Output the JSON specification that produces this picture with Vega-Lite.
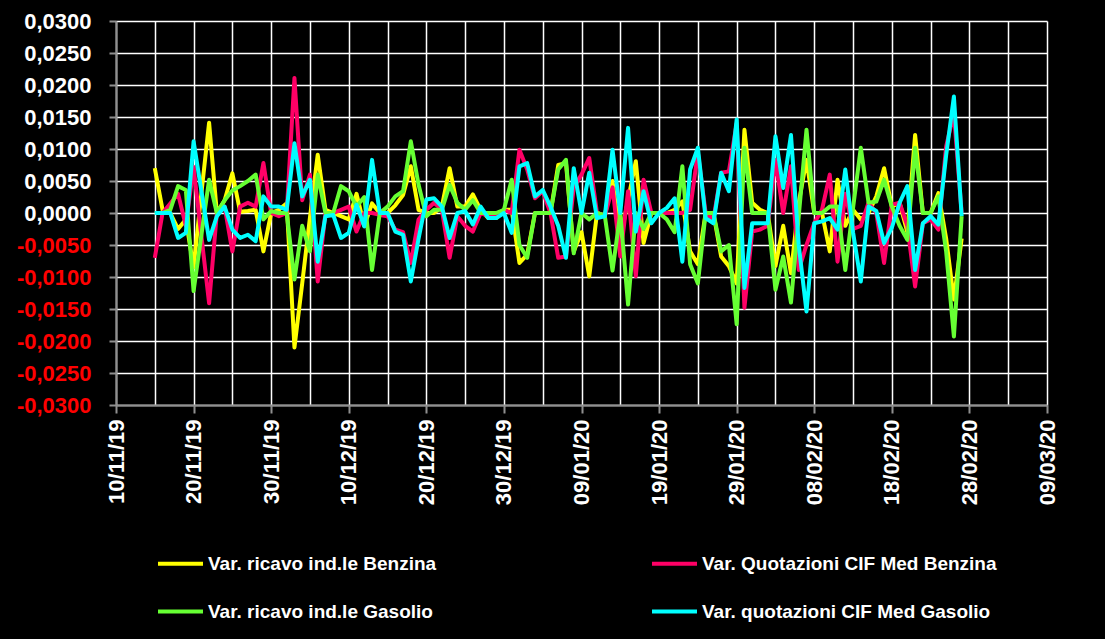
{
  "$schema": "https://vega.github.io/schema/vega-lite/v6.json",
  "width": 931,
  "height": 384,
  "autosize": "none",
  "padding": {"left": 116, "top": 21, "right": 58, "bottom": 234},
  "background": "#000000",
  "config": {"view": {"stroke": null}, "font": "Liberation Sans"},
  "data": {"values": [
    {"d":"2019-11-15","Y":0.0070,"R":-0.0070,"G":0.0,"C":0.0},
    {"d":"2019-11-16","Y":0.0005,"R":0.0,"G":0.0,"C":0.0},
    {"d":"2019-11-17","Y":0.0,"R":0.0015,"G":0.0005,"C":0.0},
    {"d":"2019-11-18","Y":-0.0025,"R":0.003,"G":0.0042,"C":-0.0039},
    {"d":"2019-11-19","Y":-0.001,"R":-0.002,"G":0.0036,"C":-0.0031},
    {"d":"2019-11-20","Y":-0.0085,"R":0.0072,"G":-0.0122,"C":0.0112},
    {"d":"2019-11-21","Y":0.003,"R":-0.0035,"G":-0.0035,"C":0.0035},
    {"d":"2019-11-22","Y":0.0141,"R":-0.0141,"G":0.0052,"C":-0.0042},
    {"d":"2019-11-23","Y":0.0,"R":0.0,"G":0.0,"C":-0.0005},
    {"d":"2019-11-24","Y":0.002,"R":0.001,"G":0.002,"C":0.001},
    {"d":"2019-11-25","Y":0.0062,"R":-0.006,"G":0.0035,"C":-0.0026},
    {"d":"2019-11-26","Y":0.0002,"R":0.001,"G":0.0042,"C":-0.0039},
    {"d":"2019-11-27","Y":0.0003,"R":0.0016,"G":0.005,"C":-0.0034},
    {"d":"2019-11-28","Y":0.0005,"R":0.001,"G":0.006,"C":-0.0044},
    {"d":"2019-11-29","Y":-0.006,"R":0.0078,"G":-0.001,"C":0.0026},
    {"d":"2019-11-30","Y":0.0,"R":0.0,"G":0.0003,"C":0.001},
    {"d":"2019-12-01","Y":0.0005,"R":-0.0005,"G":0.0,"C":0.001},
    {"d":"2019-12-02","Y":0.0015,"R":0.0,"G":0.0,"C":0.0005},
    {"d":"2019-12-03","Y":-0.021,"R":0.0211,"G":-0.0104,"C":0.0109},
    {"d":"2019-12-04","Y":-0.011,"R":0.002,"G":-0.002,"C":0.0026},
    {"d":"2019-12-05","Y":-0.0007,"R":0.006,"G":-0.006,"C":0.0052},
    {"d":"2019-12-06","Y":0.0091,"R":-0.0107,"G":0.006,"C":-0.0076},
    {"d":"2019-12-07","Y":0.0005,"R":0.0,"G":0.0,"C":-0.0005},
    {"d":"2019-12-08","Y":0.0,"R":0.0,"G":0.0,"C":-0.0003},
    {"d":"2019-12-09","Y":-0.0005,"R":0.0005,"G":0.0042,"C":-0.0039},
    {"d":"2019-12-10","Y":-0.001,"R":0.001,"G":0.0034,"C":-0.0031},
    {"d":"2019-12-11","Y":0.003,"R":-0.0029,"G":0.001,"C":0.0013},
    {"d":"2019-12-12","Y":-0.002,"R":0.0,"G":0.0025,"C":-0.0021},
    {"d":"2019-12-13","Y":0.0015,"R":0.0,"G":-0.0089,"C":0.0083},
    {"d":"2019-12-14","Y":0.0,"R":-0.0003,"G":0.0,"C":0.0},
    {"d":"2019-12-15","Y":0.0,"R":-0.0005,"G":0.001,"C":0.0},
    {"d":"2019-12-16","Y":0.0012,"R":-0.0026,"G":0.0026,"C":-0.0029},
    {"d":"2019-12-17","Y":0.0028,"R":-0.003,"G":0.0034,"C":-0.0034},
    {"d":"2019-12-18","Y":0.0073,"R":-0.0078,"G":0.0112,"C":-0.0107},
    {"d":"2019-12-19","Y":0.0005,"R":-0.001,"G":0.0044,"C":-0.004},
    {"d":"2019-12-20","Y":0.0,"R":0.0005,"G":-0.0005,"C":0.0021},
    {"d":"2019-12-21","Y":0.0,"R":0.0016,"G":0.0005,"C":0.0023},
    {"d":"2019-12-22","Y":0.001,"R":0.0005,"G":0.0005,"C":0.001},
    {"d":"2019-12-23","Y":0.007,"R":-0.007,"G":0.0044,"C":-0.0039},
    {"d":"2019-12-24","Y":0.001,"R":-0.0005,"G":0.0016,"C":0.0},
    {"d":"2019-12-25","Y":0.001,"R":-0.002,"G":0.0005,"C":0.0003},
    {"d":"2019-12-26","Y":0.0029,"R":-0.0029,"G":0.002,"C":-0.0018},
    {"d":"2019-12-27","Y":0.0005,"R":0.0,"G":0.0,"C":0.001},
    {"d":"2019-12-28","Y":-0.0008,"R":-0.0005,"G":0.0,"C":-0.0008},
    {"d":"2019-12-29","Y":-0.0008,"R":-0.0005,"G":0.0,"C":-0.0008},
    {"d":"2019-12-30","Y":0.0005,"R":0.0005,"G":0.0005,"C":0.0},
    {"d":"2019-12-31","Y":0.0005,"R":0.0,"G":0.0052,"C":-0.0031},
    {"d":"2020-01-01","Y":-0.0078,"R":0.0099,"G":-0.005,"C":0.0073},
    {"d":"2020-01-02","Y":-0.0065,"R":0.0068,"G":-0.007,"C":0.0078},
    {"d":"2020-01-03","Y":0.0,"R":0.0023,"G":0.0,"C":0.0026},
    {"d":"2020-01-04","Y":0.0,"R":0.0034,"G":0.0,"C":0.0036},
    {"d":"2020-01-05","Y":0.0,"R":0.0,"G":0.0,"C":0.001},
    {"d":"2020-01-06","Y":0.0075,"R":-0.007,"G":0.0068,"C":-0.002},
    {"d":"2020-01-07","Y":0.0078,"R":-0.0068,"G":0.0083,"C":-0.007},
    {"d":"2020-01-08","Y":-0.006,"R":0.004,"G":-0.0063,"C":0.007},
    {"d":"2020-01-09","Y":-0.003,"R":0.006,"G":0.0,"C":0.0},
    {"d":"2020-01-10","Y":-0.0099,"R":0.0086,"G":-0.001,"C":0.0063},
    {"d":"2020-01-11","Y":0.0,"R":0.0,"G":0.0,"C":-0.0008},
    {"d":"2020-01-12","Y":-0.0004,"R":-0.0005,"G":-0.0004,"C":-0.0005},
    {"d":"2020-01-13","Y":0.005,"R":0.004,"G":-0.009,"C":0.0099},
    {"d":"2020-01-14","Y":-0.004,"R":-0.0068,"G":0.0,"C":0.0},
    {"d":"2020-01-15","Y":0.002,"R":0.0034,"G":-0.0143,"C":0.0133},
    {"d":"2020-01-16","Y":0.0081,"R":-0.0099,"G":0.0,"C":-0.0029},
    {"d":"2020-01-17","Y":-0.0047,"R":0.0052,"G":-0.0025,"C":0.0034},
    {"d":"2020-01-18","Y":0.0,"R":0.0,"G":0.0,"C":-0.0016},
    {"d":"2020-01-19","Y":0.0,"R":0.0,"G":0.0,"C":0.0},
    {"d":"2020-01-20","Y":0.0,"R":0.0,"G":-0.001,"C":0.0008},
    {"d":"2020-01-21","Y":0.0005,"R":0.0,"G":-0.003,"C":0.0023},
    {"d":"2020-01-22","Y":0.0018,"R":0.0,"G":0.0073,"C":-0.0076},
    {"d":"2020-01-23","Y":-0.006,"R":0.0005,"G":-0.008,"C":0.0068},
    {"d":"2020-01-24","Y":-0.008,"R":0.0095,"G":-0.011,"C":0.0102},
    {"d":"2020-01-25","Y":0.0,"R":0.0,"G":0.0,"C":-0.0008},
    {"d":"2020-01-26","Y":0.0,"R":-0.001,"G":0.0,"C":-0.0016},
    {"d":"2020-01-27","Y":-0.0068,"R":0.0063,"G":-0.006,"C":0.0063},
    {"d":"2020-01-28","Y":-0.0083,"R":0.0065,"G":-0.005,"C":0.0034},
    {"d":"2020-01-29","Y":-0.011,"R":0.014,"G":-0.0174,"C":0.0146},
    {"d":"2020-01-30","Y":0.013,"R":-0.0148,"G":0.0102,"C":-0.0117},
    {"d":"2020-01-31","Y":0.0016,"R":-0.0029,"G":0.0,"C":-0.0016},
    {"d":"2020-02-01","Y":0.0005,"R":-0.0026,"G":0.0,"C":-0.0016},
    {"d":"2020-02-02","Y":0.0,"R":-0.002,"G":0.0,"C":-0.0016},
    {"d":"2020-02-03","Y":-0.0083,"R":0.0083,"G":-0.012,"C":0.012},
    {"d":"2020-02-04","Y":-0.002,"R":0.0,"G":-0.0068,"C":0.0039},
    {"d":"2020-02-05","Y":-0.0094,"R":0.0073,"G":-0.014,"C":0.0122},
    {"d":"2020-02-06","Y":0.0016,"R":-0.0089,"G":-0.0005,"C":-0.005},
    {"d":"2020-02-07","Y":0.0083,"R":-0.005,"G":0.013,"C":-0.0154},
    {"d":"2020-02-08","Y":0.0,"R":-0.0016,"G":0.0,"C":-0.0016},
    {"d":"2020-02-09","Y":0.0,"R":0.0005,"G":0.0,"C":-0.0013},
    {"d":"2020-02-10","Y":-0.006,"R":0.006,"G":0.001,"C":-0.0008},
    {"d":"2020-02-11","Y":0.0052,"R":-0.0076,"G":0.001,"C":-0.0026},
    {"d":"2020-02-12","Y":-0.002,"R":0.003,"G":-0.0089,"C":0.0068},
    {"d":"2020-02-13","Y":0.0005,"R":-0.0025,"G":0.0008,"C":-0.003},
    {"d":"2020-02-14","Y":-0.001,"R":-0.002,"G":0.0102,"C":-0.0107},
    {"d":"2020-02-15","Y":0.0,"R":0.0016,"G":0.0016,"C":0.001},
    {"d":"2020-02-16","Y":0.0026,"R":0.0,"G":0.0018,"C":0.0003},
    {"d":"2020-02-17","Y":0.007,"R":-0.0078,"G":0.0052,"C":-0.0047},
    {"d":"2020-02-18","Y":0.001,"R":0.0013,"G":0.001,"C":-0.0023},
    {"d":"2020-02-19","Y":0.0016,"R":0.0016,"G":-0.002,"C":0.0016},
    {"d":"2020-02-20","Y":-0.003,"R":-0.002,"G":-0.0042,"C":0.0042},
    {"d":"2020-02-21","Y":0.0122,"R":-0.0115,"G":0.0102,"C":-0.0089},
    {"d":"2020-02-22","Y":0.0,"R":-0.0016,"G":0.0,"C":-0.0016},
    {"d":"2020-02-23","Y":0.0,"R":-0.001,"G":0.0,"C":-0.0005},
    {"d":"2020-02-24","Y":0.0031,"R":-0.0026,"G":0.0026,"C":-0.0018},
    {"d":"2020-02-25","Y":-0.004,"R":0.0104,"G":-0.006,"C":0.009},
    {"d":"2020-02-26","Y":-0.0135,"R":0.0156,"G":-0.0193,"C":0.0182},
    {"d":"2020-02-27","Y":-0.004,"R":0.0,"G":-0.0005,"C":-0.0005}
  ]},
  "transform": [{"fold": ["Y", "R", "G", "C"], "as": ["serie", "valore"]}],
  "mark": {"type": "line", "strokeWidth": 4, "strokeJoin": "round"},
  "encoding": {
    "x": {
      "field": "d",
      "type": "temporal",
      "scale": {
        "type": "utc",
        "domain": [{"year": 2019, "month": 11, "date": 10, "utc": true}, {"year": 2020, "month": 3, "date": 9, "utc": true}]
      },
      "axis": {
        "title": null,
        "values": [
          {"year": 2019, "month": 11, "date": 10, "utc": true},
          {"year": 2019, "month": 11, "date": 15, "utc": true},
          {"year": 2019, "month": 11, "date": 20, "utc": true},
          {"year": 2019, "month": 11, "date": 25, "utc": true},
          {"year": 2019, "month": 11, "date": 30, "utc": true},
          {"year": 2019, "month": 12, "date": 5, "utc": true},
          {"year": 2019, "month": 12, "date": 10, "utc": true},
          {"year": 2019, "month": 12, "date": 15, "utc": true},
          {"year": 2019, "month": 12, "date": 20, "utc": true},
          {"year": 2019, "month": 12, "date": 25, "utc": true},
          {"year": 2019, "month": 12, "date": 30, "utc": true},
          {"year": 2020, "month": 1, "date": 4, "utc": true},
          {"year": 2020, "month": 1, "date": 9, "utc": true},
          {"year": 2020, "month": 1, "date": 14, "utc": true},
          {"year": 2020, "month": 1, "date": 19, "utc": true},
          {"year": 2020, "month": 1, "date": 24, "utc": true},
          {"year": 2020, "month": 1, "date": 29, "utc": true},
          {"year": 2020, "month": 2, "date": 3, "utc": true},
          {"year": 2020, "month": 2, "date": 8, "utc": true},
          {"year": 2020, "month": 2, "date": 13, "utc": true},
          {"year": 2020, "month": 2, "date": 18, "utc": true},
          {"year": 2020, "month": 2, "date": 23, "utc": true},
          {"year": 2020, "month": 2, "date": 28, "utc": true},
          {"year": 2020, "month": 3, "date": 4, "utc": true},
          {"year": 2020, "month": 3, "date": 9, "utc": true}
        ],
        "labelExpr": "round((datum.value - utc(2019, 10, 10)) / 86400000) % 10 == 0 ? utcFormat(datum.value, '%d/%m/%y') : ''",
        "labelAngle": -90,
        "labelFont": "Liberation Sans",
        "labelFontWeight": "bold",
        "labelFontSize": 22,
        "labelColor": "#ffffff",
        "labelPadding": 6,
        "labelOverlap": false,
        "labelBound": false,
        "labelFlush": false,
        "tickSize": 8,
        "tickWidth": 2,
        "tickColor": {"condition": {"test": "round((datum.value - utc(2019, 10, 10)) / 86400000) % 10 == 0", "value": "#909090"}, "value": "transparent"},
        "grid": true,
        "gridColor": "#ffffff",
        "gridWidth": 1.5,
        "domainColor": "#909090",
        "domainWidth": 2
      }
    },
    "y": {
      "field": "valore",
      "type": "quantitative",
      "scale": {"domain": [-0.03, 0.03], "nice": false, "zero": false},
      "axis": {
        "title": null,
        "values": [-0.03, -0.025, -0.02, -0.015, -0.01, -0.005, 0, 0.005, 0.01, 0.015, 0.02, 0.025, 0.03],
        "labelExpr": "(datum.value < -0.0001 ? '-' : '') + replace(format(abs(datum.value), '.4f'), '.', ',')",
        "labelFont": "Liberation Sans",
        "labelFontWeight": "bold",
        "labelFontSize": 22,
        "labelColor": {"condition": {"test": "datum.value < -0.0001", "value": "#ff0000"}, "value": "#ffffff"},
        "labelPadding": 18,
        "labelOverlap": false,
        "labelFlush": false,
        "tickSize": 7,
        "tickWidth": 2,
        "tickColor": "#909090",
        "grid": true,
        "gridColor": "#ffffff",
        "gridWidth": 1.5,
        "domainColor": "#909090",
        "domainWidth": 2
      }
    },
    "color": {
      "field": "serie",
      "type": "nominal",
      "scale": {"domain": ["Y", "R", "G", "C"], "range": ["#ffff00", "#ff0066", "#66ff33", "#00ffff"]},
      "legend": {
        "title": null,
        "orient": "none",
        "legendX": 40,
        "legendY": 518,
        "direction": "horizontal",
        "columns": 2,
        "columnPadding": 207,
        "rowPadding": 13,
        "symbolType": "stroke",
        "symbolStrokeWidth": 4,
        "symbolSize": 2025,
        "labelColor": "#ffffff",
        "labelFont": "Liberation Sans",
        "labelFontWeight": "bold",
        "labelFontSize": 19,
        "labelLimit": 0,
        "labelOffset": 3,
        "labelExpr": "datum.label == 'Y' ? 'Var. ricavo ind.le Benzina' : datum.label == 'R' ? 'Var. Quotazioni CIF Med Benzina' : datum.label == 'G' ? 'Var. ricavo ind.le Gasolio' : 'Var. quotazioni CIF Med Gasolio'"
      }
    }
  }
}
